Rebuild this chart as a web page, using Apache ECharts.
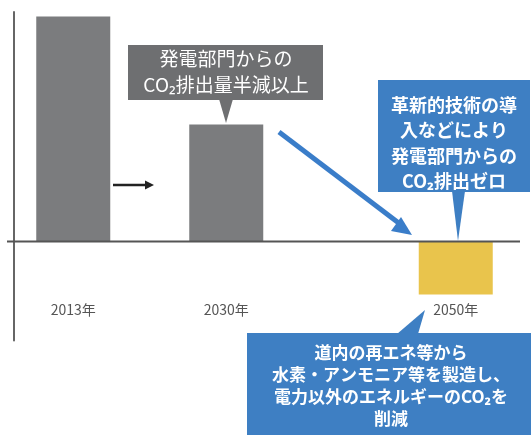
<!DOCTYPE html>
<html>
<head>
<meta charset="utf-8">
<script src="https://cdn.jsdelivr.net/npm/echarts@6/dist/echarts.min.js"></script>
<style>
  html, body { margin: 0; padding: 0; background: #fff; }
  #chart { width: 531px; height: 435px; }
</style>
</head>
<body>
<div id="chart"></div>
<script>
// 年（空欄はスペーサー）
var years = ['2013年', '', '2030年', '', '', '2050年'];
// CO2排出量（相対値）
var values = [100, null, 52, null, null, -23.5];
var barColors = ['#7b7c7e', '#7b7c7e', '#7b7c7e', '#7b7c7e', '#7b7c7e', '#e9c44c'];

var FONT = '"Noto Sans CJK JP", "Noto Sans", sans-serif';

var chart = echarts.init(document.getElementById('chart'), null, { renderer: 'canvas' });

var option = {
  backgroundColor: '#fff',
  animation: false,
  grid: {
    left: 35,
    right: 37,
    top: 12,
    bottom: 94.5
  },
  xAxis: {
    type: 'category',
    data: years,
    axisLine: { show: false, onZero: false },
    axisTick: { show: false },
    axisLabel: {
      margin: -38,
      color: '#555',
      fontSize: 14,
      fontFamily: FONT
    }
  },
  yAxis: {
    type: 'value',
    min: -44,
    max: 102,
    offset: 21,
    axisLine: {
      show: true,
      lineStyle: { color: '#666', width: 2 }
    },
    axisTick: { show: false },
    axisLabel: { show: false },
    splitLine: { show: false }
  },
  series: [{
    type: 'bar',
    barWidth: 74,
    data: values,
    itemStyle: {
      color: function (p) { return barColors[p.dataIndex]; }
    }
  }]
};
chart.setOption(option);

// 基準線（0の位置）
var y0 = chart.convertToPixel({ yAxisIndex: 0 }, 0);

chart.setOption({
  graphic: [
    // 基準線（左右に延長）
    {
      type: 'line', z: 10,
      shape: { x1: 7, y1: y0, x2: 520, y2: y0 },
      style: { stroke: '#555', lineWidth: 2 }
    },
    // 黒矢印
    {
      type: 'line', z: 10,
      shape: { x1: 113, y1: 185, x2: 147, y2: 185 },
      style: { stroke: '#222', lineWidth: 2.5 }
    },
    {
      type: 'polygon', z: 10,
      shape: { points: [[145, 180.5], [154, 185], [145, 189.5]] },
      style: { fill: '#222' }
    },
    // 青矢印
    {
      type: 'line', z: 10,
      shape: { x1: 279, y1: 132, x2: 400, y2: 224 },
      style: { stroke: '#3a7dc9', lineWidth: 5 }
    },
    {
      type: 'polygon', z: 10,
      shape: { points: [[412, 235], [391, 231], [401, 217]] },
      style: { fill: '#3a7dc9' }
    },
    // 吹き出し1（グレー）
    {
      type: 'rect', z: 10,
      shape: { x: 128, y: 45, width: 195, height: 55 },
      style: { fill: '#6e6f71' }
    },
    {
      type: 'polygon', z: 10,
      shape: { points: [[219, 99], [233, 99], [226, 123]] },
      style: { fill: '#6e6f71' }
    },
    {
      type: 'text', z: 11,
      x: 226, y: 72,
      style: {
        text: '発電部門からの\nCO₂排出量半減以上',
        fill: '#fff',
        font: '19px ' + FONT,
        lineHeight: 26,
        align: 'center',
        verticalAlign: 'middle'
      }
    },
    // 吹き出し2（青）
    {
      type: 'rect', z: 10,
      shape: { x: 378, y: 80, width: 152, height: 112 },
      style: { fill: '#3e7fc3' }
    },
    {
      type: 'polygon', z: 10,
      shape: { points: [[452, 191], [465, 191], [458, 241]] },
      style: { fill: '#3e7fc3' }
    },
    {
      type: 'text', z: 11,
      x: 454, y: 143,
      style: {
        text: '革新的技術の導\n入などにより\n発電部門からの\nCO₂排出ゼロ',
        fill: '#fff',
        font: 'bold 18px ' + FONT,
        lineHeight: 25.5,
        align: 'center',
        verticalAlign: 'middle'
      }
    },
    // 吹き出し3（青）
    {
      type: 'rect', z: 10,
      shape: { x: 247, y: 333, width: 284, height: 102 },
      style: { fill: '#3e7fc3' }
    },
    {
      type: 'polygon', z: 10,
      shape: { points: [[397, 334], [418, 334], [425, 310]] },
      style: { fill: '#3e7fc3' }
    },
    {
      type: 'text', z: 11,
      x: 391, y: 386,
      style: {
        text: '道内の再エネ等から\n水素・アンモニア等を製造し、\n電力以外のエネルギーのCO₂を\n削減',
        fill: '#fff',
        font: 'bold 17px ' + FONT,
        lineHeight: 22,
        align: 'center',
        verticalAlign: 'middle'
      }
    }
  ]
});
</script>
</body>
</html>
